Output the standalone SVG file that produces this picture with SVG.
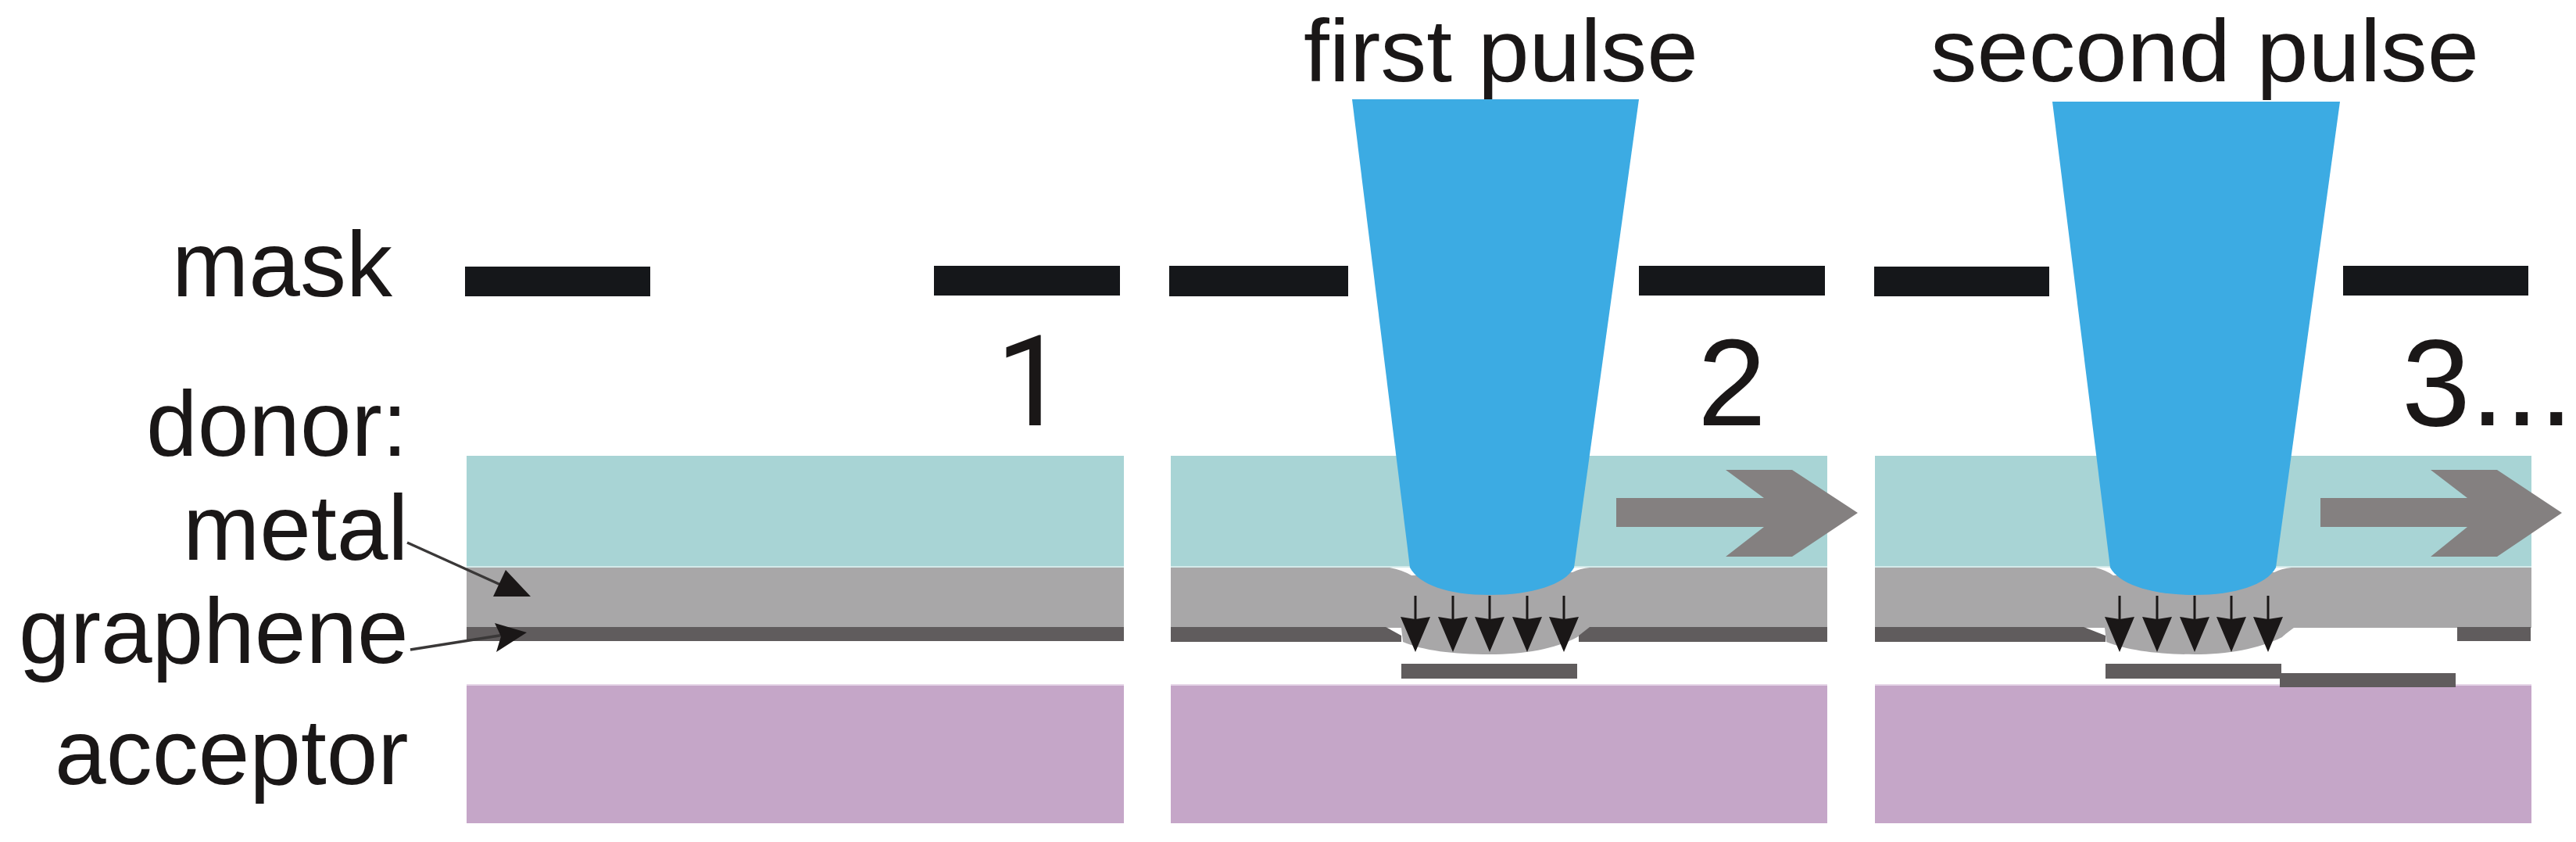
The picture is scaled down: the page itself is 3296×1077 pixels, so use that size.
<svg xmlns="http://www.w3.org/2000/svg" width="3296" height="1077" viewBox="0 0 3296 1077">
<style>
text{font-family:"Liberation Sans",Arial,sans-serif;fill:#1a1717}
.big{font-size:114px}.lab{font-size:118px}.num{font-size:158px}
.teal{fill:#a8d4d5}.edge{fill:#d3eaea}.metal{fill:#a8a7a8}.gr{fill:#605c5d}.acc{fill:#c5a6c8}.acctop{fill:#e6d6e8}
.beam{fill:#3cabe3}.mask{fill:#15171a}.move{fill:#848080}
.ln{stroke:#1a1717;stroke-width:3;fill:none}.lead{stroke:#3a3838;stroke-width:3.5;fill:none}.hd{fill:#1a1717}
</style>
<defs>
<g id="burst"><path class="ln" d="M0 762V795"/><path class="hd" d="M-19 789L0 792L19 789L0 834Z"/></g>
</defs>
<rect width="3296" height="1077" fill="#fff"/>
<g id="labels">
<text class="lab" x="220" y="379">mask</text>
<text class="lab" x="187" y="583">donor:</text>
<text class="lab" x="234" y="716">metal</text>
<text class="lab" x="24" y="848">graphene</text>
<text class="lab" x="70" y="1003">acceptor</text>
<text class="big" x="1668" y="103.5" textLength="505" lengthAdjust="spacingAndGlyphs">first pulse</text>
<text class="big" x="2470" y="103.5" textLength="702" lengthAdjust="spacingAndGlyphs">second pulse</text>
<text x="1274" y="544" style="font-size:162px;font-family:Roboto,sans-serif">1</text>
<text class="num" x="2172" y="544">2</text>
<text class="num" x="3073" y="544">3...</text>
</g>
<g id="mask">
<rect class="mask" x="595" y="341" width="237" height="38"/>
<rect class="mask" x="1195" y="340" width="238" height="38"/>
<rect class="mask" x="1496" y="340" width="229" height="39"/>
<rect class="mask" x="2097" y="340" width="238" height="38"/>
<rect class="mask" x="2398" y="341" width="224" height="38"/>
<rect class="mask" x="2998" y="340" width="237" height="38"/>
</g>
<g id="panel1">
<rect class="teal" x="597" y="583" width="841" height="141"/>
<rect class="edge" x="597" y="724" width="841" height="2"/>
<rect class="metal" x="597" y="726" width="841" height="77"/>
<rect class="gr" x="597" y="802" width="841" height="18"/>
<rect class="acctop" x="597" y="875" width="841" height="3"/>
<rect class="acc" x="597" y="877" width="841" height="176"/>
</g>
<g id="panel2">
<rect class="teal" x="1498" y="583" width="840" height="141"/>
<rect class="edge" x="1498" y="724" width="840" height="2"/>
<rect class="acctop" x="1498" y="875" width="840" height="3"/>
<rect class="acc" x="1498" y="877" width="840" height="176"/>
<path class="metal" d="M1498 726H1778Q1794 729 1806 736L2012 732Q2022 727 2034 726H2338V803H2034L2018 815C1990 830 1950 837 1906 837C1860 837 1820 832 1795 821L1793 803H1498Z"/>
<path class="gr" d="M1498 802H1773L1793 813V821H1498Z"/>
<path class="gr" d="M2034 802H2338V821H2020V813Z"/>
<rect class="gr" x="1793" y="849" width="225" height="19"/>
<path class="beam" d="M1730 127H2097L2014 726C2002 748 1960 761 1906 761C1852 761 1816 748 1804 726Z"/>
<path class="move" transform="translate(2068 0)" d="M0 637H189L140 601H225L309 656L225 712H140L189 674H0Z"/>
</g>
<g id="panel3">
<rect class="teal" x="2399" y="583" width="840" height="141"/>
<rect class="edge" x="2399" y="724" width="840" height="2"/>
<rect class="acctop" x="2399" y="875" width="840" height="3"/>
<rect class="acc" x="2399" y="877" width="840" height="176"/>
<path class="metal" d="M2399 726H2681Q2694 729 2704 736L2910 732Q2920 727 2932 726H3239V803H2935C2928 808 2924 811 2920 815C2890 830 2850 837 2808 837C2762 837 2722 832 2695 821L2693 803H2399Z"/>
<path class="gr" d="M2399 802H2666L2694 813V821H2399Z"/>
<rect class="gr" x="3144" y="802" width="94" height="18"/>
<rect class="gr" x="2694" y="849" width="225" height="19"/>
<rect class="gr" x="2917" y="861" width="225" height="18"/>
<path class="beam" d="M2626 130H2994L2912 726C2900 748 2860 761 2808 761C2754 761 2712 748 2700 726Z"/>
<path class="move" transform="translate(2969 0)" d="M0 637H188L141 601H226L309 656L226 712H141L188 674H0Z"/>
</g>
<g id="connectors">
<path class="lead" d="M521 694L645 750"/>
<path class="hd" d="M647 729L679 763H631Z"/>
<path class="lead" d="M525 831L645 812"/>
<path class="hd" d="M633 797L674 809L635 834L641 814Z"/>
<use href="#burst" x="1811"/><use href="#burst" x="1859"/><use href="#burst" x="1906"/><use href="#burst" x="1954"/><use href="#burst" x="2001"/>
<use href="#burst" x="2712"/><use href="#burst" x="2760"/><use href="#burst" x="2808"/><use href="#burst" x="2855"/><use href="#burst" x="2902"/>
</g>
</svg>
